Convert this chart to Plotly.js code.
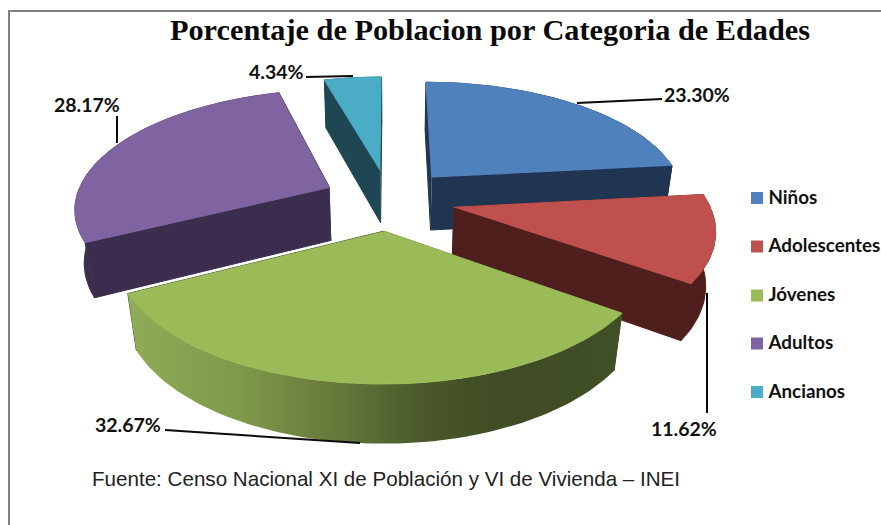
<!DOCTYPE html>
<html><head><meta charset="utf-8">
<script src="https://cdn.plot.ly/plotly-3.0.1.min.js"></script>
<style>html,body{margin:0;padding:0;background:#fff}#c{width:881px;height:525px}</style>
</head><body><div id="c"></div>
<script>
const categories = ['Niños','Adolescentes','Jóvenes','Adultos','Ancianos'];
const percentages = [23.30,11.62,32.67,28.17,4.34];
const topColors = ['#4f81bd','#c0504d','#9bbb59','#8064a2','#4bacc6'];
const sideColors = ['#1f3552','#4f1f1d','#4a5a2a','#3b2d4e','#1f4753'];
const labelPos = [[697,94],[684,428],[128,424],[87,104],[276,71]];
const leaders = [[[577,103],[662,99]],[[707,293],[707,413]],[[165,430],[360,443]],[[117,116],[117,143]],[[306,77],[353,76]]];
const legendY = [198,246.5,295.5,343.5,392];

// Camera of the tilted, exploded pie
const cam = {cx:389, cy:199.5, R:254, S:117, p:0.16, q:0.03, D:55, pull:0.26};
function proj(u,v,z){
  const w = 1 + cam.p*v + cam.q*z;
  return [cam.cx + cam.R*u/w, cam.cy + (-cam.S*v + cam.D*z)/w];
}
const total = percentages.reduce((a,b)=>a+b,0);
const rad = d=>d*Math.PI/180;
let start = 0;
const slices = percentages.map((val,i)=>{
  const a0 = start, a1 = start + val/total*360; start = a1;
  const m = rad((a0+a1)/2);
  const ou = cam.pull*Math.sin(m), ov = cam.pull*Math.cos(m);
  const pt = (deg,z)=>proj(ou+Math.sin(rad(deg)),ov+Math.cos(rad(deg)),z);
  const apex = z=>proj(ou,ov,z);
  const arc = [];
  const n = Math.max(6,Math.ceil((a1-a0)/1.5));
  for(let k=0;k<=n;k++) arc.push(a0+(a1-a0)*k/n);
  return {i,a0,a1,pt,apex,arc};
});
const traces = [];
function poly(pts,color,grad){
  const t = {type:'scatter',mode:'lines',x:pts.map(p=>p[0]),y:pts.map(p=>p[1]),fill:'toself',
    line:{width:grad?0:1,color:color},fillcolor:color,hoverinfo:'skip',showlegend:false};
  if(grad) t.fillgradient = grad;
  traces.push(t);
}
const greenGrad = {type:'horizontal',colorscale:[[0,'#8fac56'],[0.22,'#7f9a4b'],[0.42,'#66793a'],[0.6,'#4a582a'],[0.75,'#3f4c25'],[1,'#414f26']]};
// back slices first, front slice last
[3,4,0,1,2].forEach(i=>{
  const s = slices[i], side = sideColors[i];
  const strip = (angs)=>angs.map(a=>s.pt(a,0)).concat(angs.slice().reverse().map(a=>s.pt(a,1)));
  const back = s.arc.filter(a=>Math.cos(rad(a))>=0);
  const front = s.arc.filter(a=>Math.cos(rad(a))<=0);
  if(back.length>1) poly(strip(back),side);
  const walls = [s.a0,s.a1].sort((a,b)=>s.pt(a,0)[1]-s.pt(b,0)[1]);
  walls.forEach(a=>poly([s.apex(0),s.pt(a,0),s.pt(a,1),s.apex(1)],side));
  if(front.length>1) poly(strip(front),side,i===2?greenGrad:null);
  poly([s.apex(0)].concat(s.arc.map(a=>s.pt(a,0))),topColors[i]);
});
// legend keys and names
traces.push({type:'scatter',mode:'markers',x:categories.map(()=>757),y:legendY,
  marker:{symbol:'square',size:12,color:topColors,line:{width:0}},hoverinfo:'skip',showlegend:false});
traces.push({type:'scatter',mode:'text',x:categories.map(()=>768.5),y:legendY.map(y=>y+1),text:categories,
  textposition:'middle right',cliponaxis:false,
  textfont:{family:'Lato, sans-serif',size:18.8,color:'#111',weight:700},hoverinfo:'skip',showlegend:false});

const shapes = leaders.map(l=>({type:'line',xref:'x',yref:'y',x0:l[0][0],y0:l[0][1],x1:l[1][0],y1:l[1][1],line:{color:'#0a0a0a',width:2}}));
shapes.push({type:'line',xref:'x',yref:'y',x0:9,y0:11,x1:9,y1:525,line:{color:'#808080',width:2}});
shapes.push({type:'line',xref:'x',yref:'y',x0:8,y0:11,x1:881,y1:11,line:{color:'#808080',width:2}});

const annotations = percentages.map((v,i)=>({xref:'x',yref:'y',x:labelPos[i][0],y:labelPos[i][1],showarrow:false,
  text:v.toFixed(2)+'%',font:{family:'Lato, sans-serif',size:19.5,color:'#111',weight:700}}));
annotations.push({xref:'x',yref:'y',x:90,y:478,xanchor:'left',showarrow:false,
  text:'Fuente: Censo Nacional XI de Población y VI de Vivienda – INEI',
  font:{family:'Liberation Sans, Arial, sans-serif',size:20.6,color:'#222'}});

Plotly.newPlot('c',traces,{
  width:881,height:525,margin:{l:0,r:0,t:0,b:0},paper_bgcolor:'#fff',plot_bgcolor:'#fff',showlegend:false,
  title:{text:'<b>Porcentaje de Poblacion por Categoria de Edades</b>',x:490/881,xanchor:'center',y:1-29/525,yanchor:'middle',
    font:{family:'Liberation Serif, serif',size:30.3,color:'#0a0a0a'}},
  xaxis:{range:[0,881],visible:false,fixedrange:true},
  yaxis:{range:[525,0],visible:false,fixedrange:true},
  shapes,annotations
},{displayModeBar:false,staticPlot:true});
</script></body></html>
